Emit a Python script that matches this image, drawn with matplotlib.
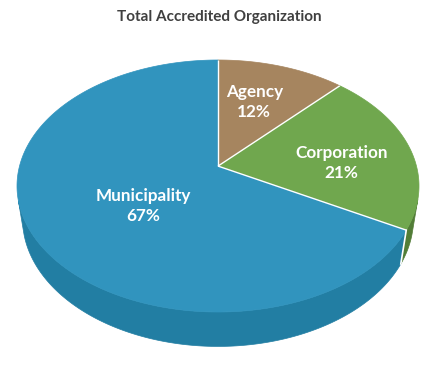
import numpy as np
import matplotlib
matplotlib.use("Agg")
import matplotlib.pyplot as plt
from matplotlib.patches import Polygon

# data
categories = ["Agency", "Corporation", "Municipality"]
shares = [12, 21, 67]

title = "Total Accredited Organization"

top_colors = ["#A6855F", "#70A74E", "#3194BE"]
side_colors = ["#7E6446", "#527D37", "#227EA3"]
label_radius = [0.55, 0.63, 0.45]          # where the text sits on each slice
label_nudge = [(-1, -6), (2, 9), (5, 11)]  # small pixel tweaks

plt.rcParams["font.family"] = ["Lato", "DejaVu Sans"]

# camera for the 3d look
elev = np.radians(38.5)
c, s = np.cos(elev), np.sin(elev)
D = 4.95
thick = 0.22


def project(x, d, z):
    depth = d * c - z * s + D
    up = d * s + z * c
    return x / depth, up / depth


# fit the projected rim into the pixel box of the picture
t = np.linspace(0, 2 * np.pi, 721)
rx, ry = project(np.sin(t), np.cos(t), 0 * t)
x0, x1, y0, y1 = 17, 419, 60, 312
sx = (x1 - x0) / (rx.max() - rx.min())
sy = (y1 - y0) / (ry.max() - ry.min())


def to_px(x, d, z):
    px, py = project(np.asarray(x, float), np.asarray(d, float), np.asarray(z, float))
    return x0 + (px - rx.min()) * sx, y0 + (ry.max() - py) * sy


fig = plt.figure(figsize=(4.25, 3.65), dpi=100)
ax = fig.add_axes([0, 0, 1, 1])
ax.set_xlim(0, 425)
ax.set_ylim(365, 0)
ax.axis("off")

fracs = np.array(shares) / sum(shares)
edges = np.concatenate([[0], np.cumsum(fracs)]) * 2 * np.pi

# side walls (only the part facing the viewer)
for i in range(len(shares)):
    th = np.linspace(edges[i], edges[i + 1], 300)
    vis = np.cos(th) < -1 / (D * c)
    if not vis.any():
        continue
    th = th[vis]
    tx, ty = to_px(np.sin(th), np.cos(th), 0 * th)
    bx, by = to_px(np.sin(th), np.cos(th), 0 * th - thick)
    pts = np.column_stack([np.concatenate([tx, bx[::-1]]), np.concatenate([ty, by[::-1]])])
    ax.add_patch(Polygon(pts, closed=True, facecolor=side_colors[i], edgecolor=side_colors[i], lw=0.5))

# white seam on the wall where slices meet
for e in edges[1:-1]:
    if np.cos(e) < -1 / (D * c):
        sxp, syp = to_px([np.sin(e)] * 2, [np.cos(e)] * 2, [0, -thick])
        ax.plot(sxp, syp, color="white", lw=1.2)

# top faces
cx, cy = to_px(0, 0, 0)
for i in range(len(shares)):
    th = np.linspace(edges[i], edges[i + 1], 300)
    tx, ty = to_px(np.sin(th), np.cos(th), 0 * th)
    pts = np.column_stack([np.concatenate([[cx], tx]), np.concatenate([[cy], ty])])
    ax.add_patch(Polygon(pts, closed=True, facecolor=top_colors[i], edgecolor=top_colors[i], lw=0.5))

# white radial lines between slices
for e in edges[:-1]:
    ex, ey = to_px(np.sin(e), np.cos(e), 0)
    ax.plot([cx, ex], [cy, ey], color="white", lw=1.0, solid_capstyle="butt")

# labels
for i in range(len(shares)):
    mid = (edges[i] + edges[i + 1]) / 2
    r = label_radius[i]
    lx, ly = to_px(r * np.sin(mid), r * np.cos(mid), 0)
    lx, ly = lx + label_nudge[i][0], ly + label_nudge[i][1]
    ax.text(lx, ly, f"{categories[i]}\n{shares[i]}%", color="white", fontsize=12.3,
            fontweight="bold", ha="center", va="center", linespacing=1.3)

ax.text(219, 17, title, color="#404040", fontsize=11, fontweight="bold",
        ha="center", va="center")

fig.savefig("out.png", dpi=100)
